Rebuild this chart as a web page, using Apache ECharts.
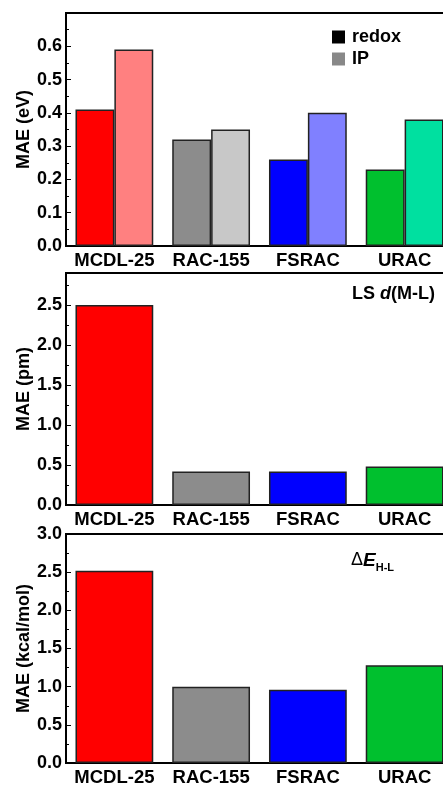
<!DOCTYPE html>
<html>
<head>
<meta charset="utf-8">
<script src="https://cdn.jsdelivr.net/npm/echarts@6/dist/echarts.min.js"></script>
<style>
html,body{margin:0;padding:0;background:#fff;overflow:hidden;}
#c{width:470px;height:787px;}
</style>
</head>
<body>
<div id="c"></div>
<script>
const categories = ['MCDL-25', 'RAC-155', 'FSRAC', 'URAC'];
const redoxValues = [0.41, 0.32, 0.26, 0.23];
const ipValues = [0.59, 0.35, 0.40, 0.38];
const lsValues = [2.5, 0.42, 0.42, 0.48];
const gapValues = [2.52, 1.00, 0.96, 1.28];
const darkColors = ['#ff0000', '#8c8c8c', '#0000ff', '#00c02e'];
const lightColors = ['#ff8080', '#c8c8c8', '#8080ff', '#00e0a0'];
const yNames = ['MAE (eV)', 'MAE (pm)', 'MAE (kcal/mol)'];

const FONT = '"Liberation Sans", Arial, Helvetica, sans-serif';
const chart = echarts.init(document.getElementById('c'));

const grids = [
  {left: 66, width: 387, top: 13, height: 233},
  {left: 66, width: 387, top: 273, height: 232},
  {left: 66, width: 387, top: 534, height: 232}
].map(g => Object.assign({show: true, borderColor: '#000', borderWidth: 2, backgroundColor: 'transparent'}, g));

const yCfg = [
  {max: 0.7, interval: 0.1, showMax: false},
  {max: 2.9, interval: 0.5, showMax: false},
  {max: 3.0, interval: 0.5, showMax: true}
];

const xAxes = grids.map((g, i) => ({
  type: 'category', gridIndex: i, data: categories,
  axisLine: {show: true, lineStyle: {color: '#000', width: 2}},
  axisTick: {show: false},
  axisLabel: {color: '#000', fontFamily: FONT, fontWeight: 'bold', fontSize: 18.5, margin: 5, interval: 0}
}));

const yAxes = yCfg.map((c, i) => ({
  type: 'value', gridIndex: i, min: 0, max: c.max, interval: c.interval,
  name: yNames[i], nameLocation: 'middle', nameGap: 33, nameRotate: 90, nameMoveOverlap: false,
  nameTextStyle: {color: '#000', fontFamily: FONT, fontWeight: 'bold', fontSize: 18},
  axisLine: {show: true, lineStyle: {color: '#000', width: 1.5}},
  axisTick: {show: true, inside: true, length: 5, lineStyle: {color: '#000', width: 1}},
  minorTick: {show: true, splitNumber: 2, length: 3, lineStyle: {color: '#000', width: 1}},
  splitLine: {show: false},
  axisLabel: {color: '#000', fontFamily: FONT, fontWeight: 'bold', fontSize: 18, margin: 4,
    showMaxLabel: c.showMax, formatter: v => v.toFixed(1)}
}));

function items(vals, cols) {
  return vals.map((v, k) => ({value: v, itemStyle: {color: cols[k]}}));
}
const border = {borderColor: '#222', borderWidth: 1.5};

const series = [
  {name: 'redox', type: 'bar', xAxisIndex: 0, yAxisIndex: 0, data: items(redoxValues, darkColors),
    barGap: '0%', barCategoryGap: '19.6%', itemStyle: Object.assign({color: '#000'}, border)},
  {name: 'IP', type: 'bar', xAxisIndex: 0, yAxisIndex: 0, data: items(ipValues, lightColors),
    barGap: '0%', barCategoryGap: '19.6%', itemStyle: Object.assign({color: '#888'}, border)},
  {name: 'LS', type: 'bar', xAxisIndex: 1, yAxisIndex: 1, data: items(lsValues, darkColors),
    barCategoryGap: '19.6%', itemStyle: border},
  {name: 'gap', type: 'bar', xAxisIndex: 2, yAxisIndex: 2, data: items(gapValues, darkColors),
    barCategoryGap: '19.6%', itemStyle: border}
];

chart.setOption({
  animation: false,
  backgroundColor: '#fff',
  grid: grids,
  xAxis: xAxes,
  yAxis: yAxes,
  legend: {
    orient: 'vertical', left: 332, top: 28, itemWidth: 13, itemHeight: 13, itemGap: 4,
    icon: 'rect', padding: 0,
    data: [
      {name: 'redox', itemStyle: {color: '#000', borderWidth: 0}},
      {name: 'IP', itemStyle: {color: '#888', borderWidth: 0}}
    ],
    textStyle: {color: '#000', fontFamily: FONT, fontWeight: 'bold', fontSize: 18, padding: [0, 0, 0, 2]}
  },
  series: series,
  graphic: [
    {type: 'text', left: 352, top: 285, silent: true,
      style: {text: '{b|LS }{i|d}{b|(M-L)}', rich: {
        b: {fontFamily: FONT, fontWeight: 'bold', fontSize: 18, fill: '#000'},
        i: {fontFamily: FONT, fontWeight: 'bold', fontStyle: 'italic', fontSize: 18, fill: '#000'}
      }}},
    {type: 'text', left: 351, top: 551, silent: true,
      style: {text: '{d|Δ}{e|E}{s|H-L}', rich: {
        d: {fontFamily: FONT, fontSize: 18, fill: '#000', lineHeight: 22, verticalAlign: 'top'},
        e: {fontFamily: FONT, fontWeight: 'bold', fontStyle: 'italic', fontSize: 19, fill: '#000', lineHeight: 22, verticalAlign: 'top'},
        s: {fontFamily: FONT, fontWeight: 'bold', fontSize: 11, fill: '#000', verticalAlign: 'bottom', lineHeight: 22}
      }}}
  ]
});
</script>
</body>
</html>
